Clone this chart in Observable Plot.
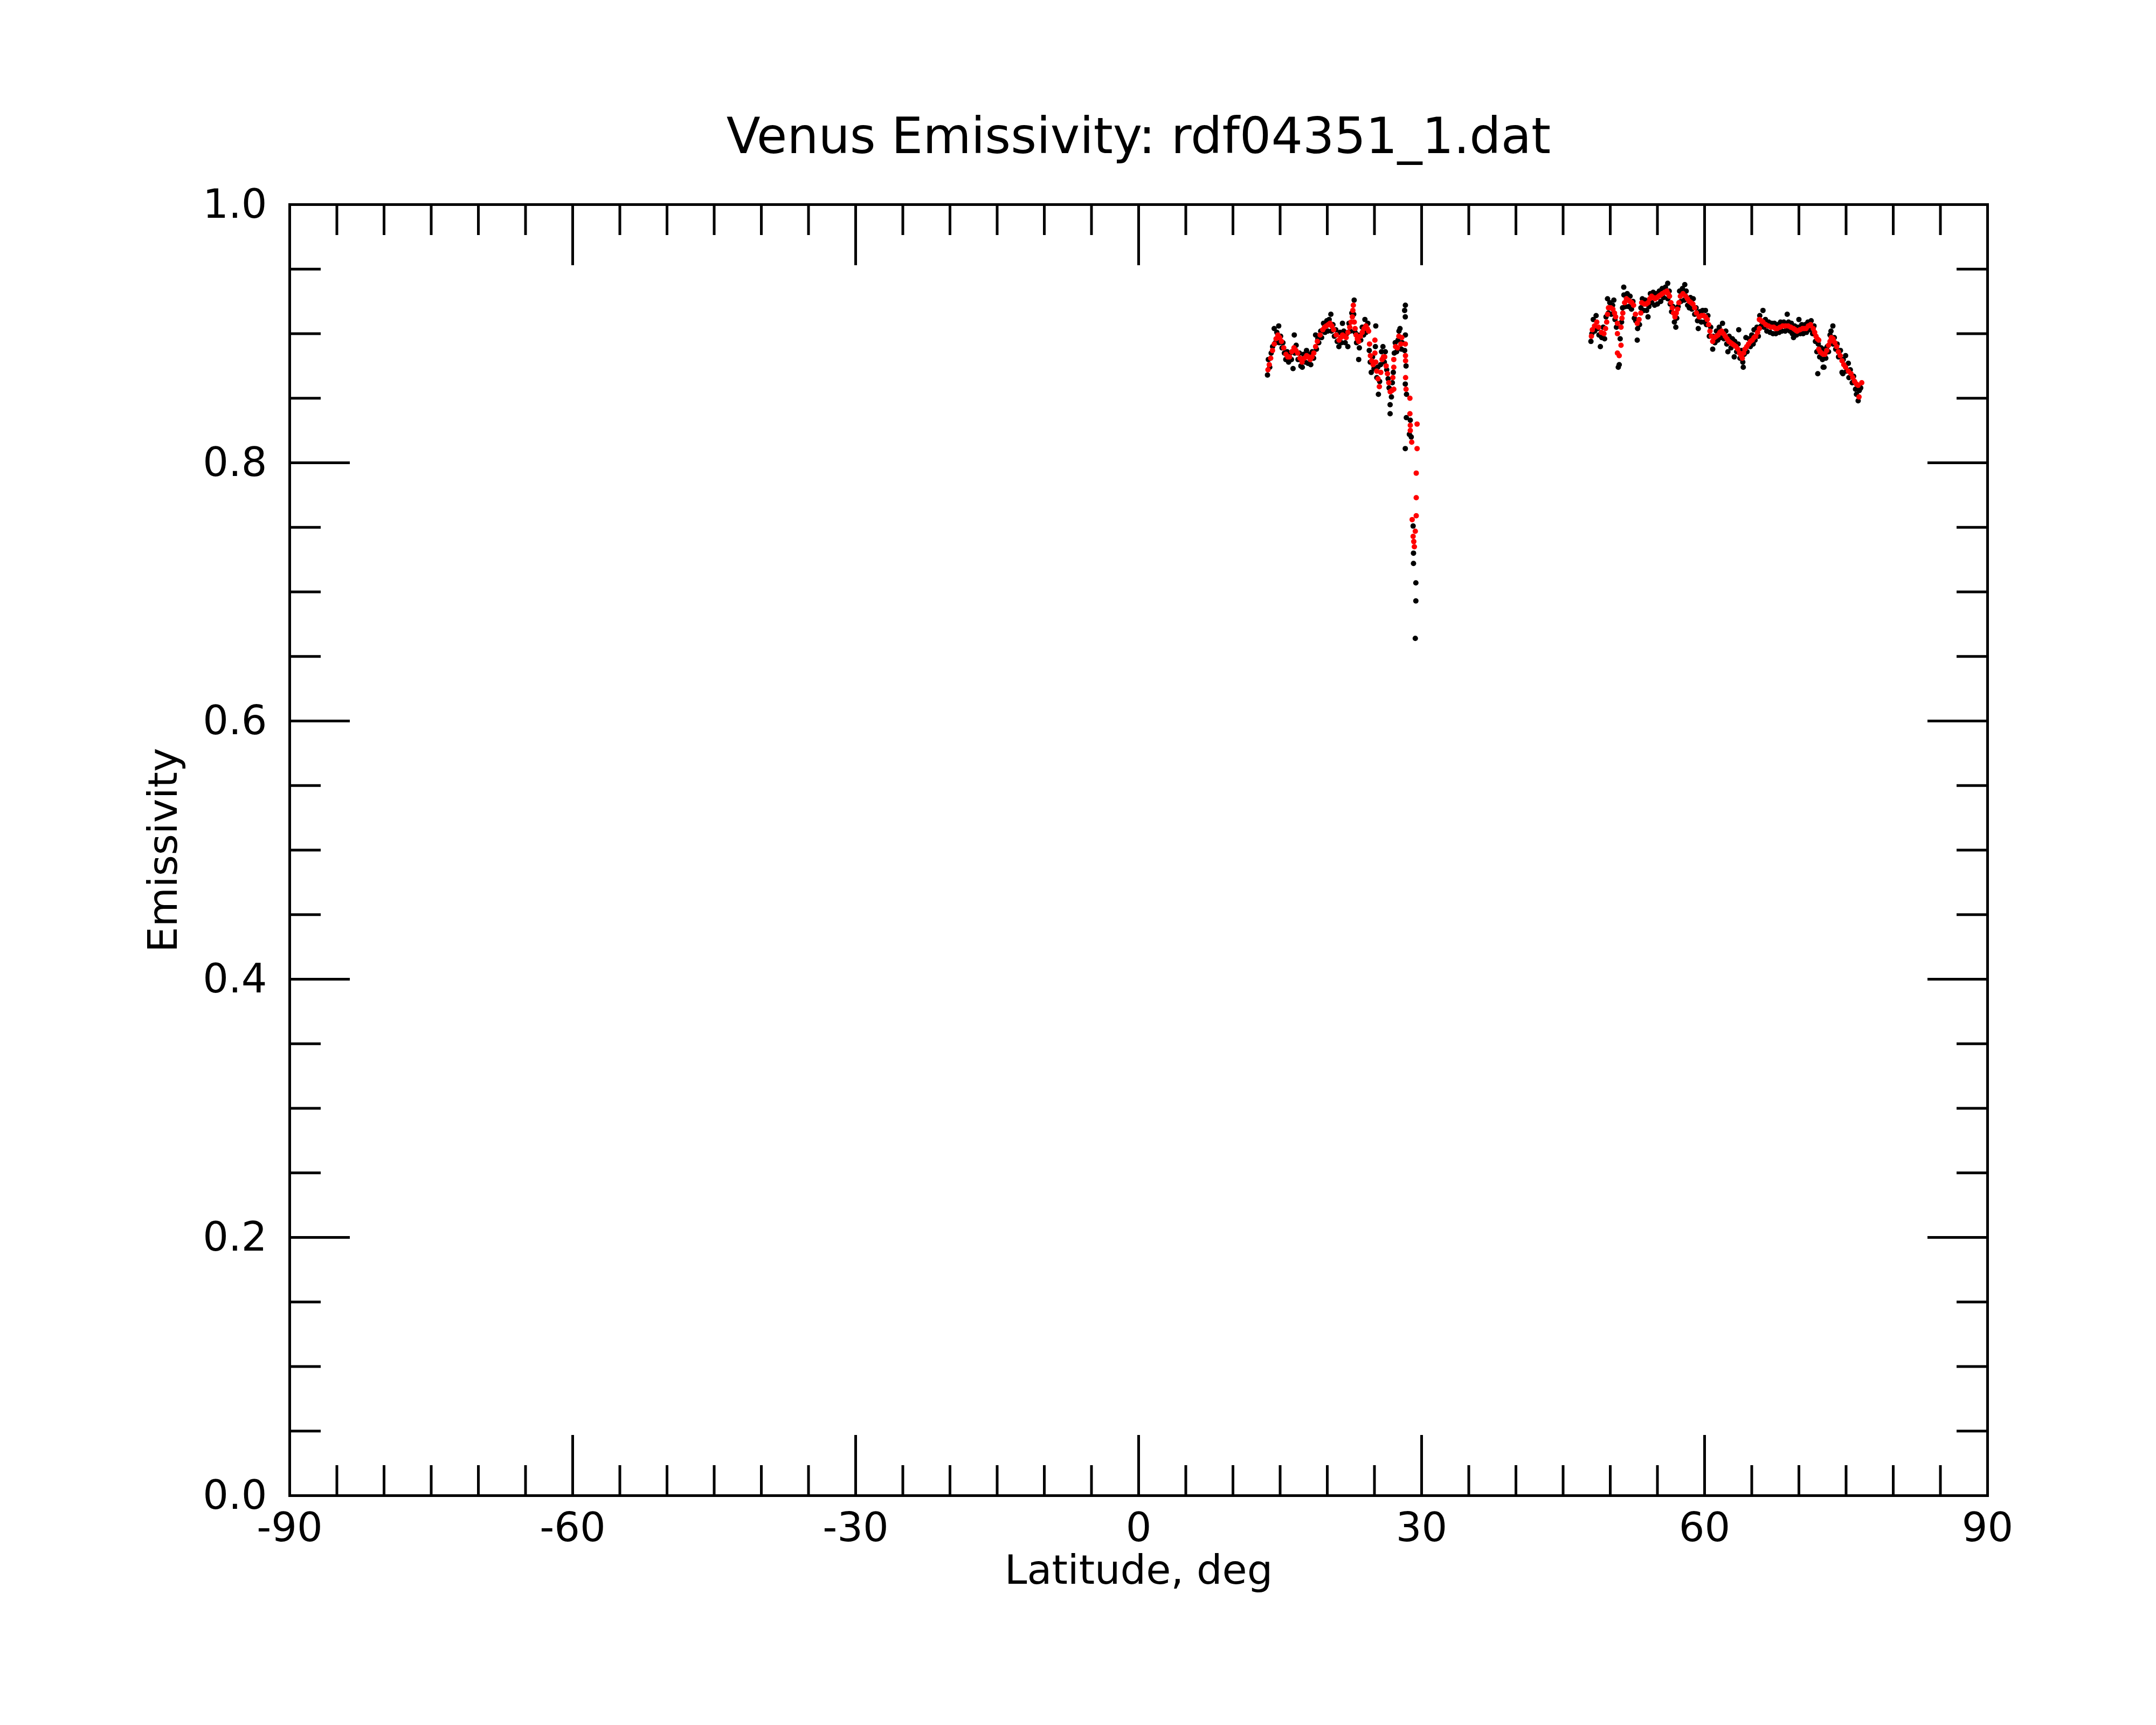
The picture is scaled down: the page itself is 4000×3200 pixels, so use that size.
<!DOCTYPE html>
<html>
<head>
<meta charset="utf-8">
<script src="https://cdn.jsdelivr.net/npm/d3@7"></script>
<script src="https://cdn.jsdelivr.net/npm/@observablehq/plot@0.6"></script>
<style>
  html, body { margin: 0; padding: 0; background: #ffffff; }
  #chart svg { display: block; }
</style>
</head>
<body>
<div id="chart"></div>
<script>
// ---- Text ----
const titleText = "Venus Emissivity: rdf04351_1.dat";
const xLabel = "Latitude, deg";
const yLabel = "Emissivity";

// ---- Ticks ----
const xMajor = [-90, -60, -30, 0, 30, 60, 90];
const xMinor = [-85, -80, -75, -70, -65, -55, -50, -45, -40, -35, -25, -20, -15, -10, -5,
                5, 10, 15, 20, 25, 35, 40, 45, 50, 55, 65, 70, 75, 80, 85];
const yMajor = [0.0, 0.2, 0.4, 0.6, 0.8, 1.0];
const yMinor = [0.05, 0.1, 0.15, 0.25, 0.3, 0.35, 0.45, 0.5, 0.55, 0.65, 0.7, 0.75, 0.85, 0.9, 0.95];

// ---- Raw emissivity (black), [latitude, emissivity] ----
const rawSeg1 = [
  [13.66,0.868],[13.75,0.880],[13.90,0.874],[14.05,0.885],[14.20,0.890],[14.37,0.904],[14.50,0.893],
  [14.65,0.901],[14.85,0.906],[14.90,0.893],[15.05,0.898],[15.20,0.889],[15.30,0.893],[15.45,0.885],
  [15.60,0.880],[15.75,0.886],[15.90,0.878],[16.05,0.885],[16.20,0.880],[16.37,0.873],[16.50,0.899],
  [16.55,0.885],[16.70,0.891],[16.90,0.880],[17.05,0.885],[17.20,0.875],[17.35,0.874],[17.50,0.884],
  [17.65,0.878],[17.80,0.887],[17.95,0.877],[18.10,0.884],[18.25,0.876],[18.40,0.886],[18.55,0.881],
  [18.76,0.899],[18.85,0.888],[19.00,0.896],[19.10,0.893],[19.30,0.902],[19.40,0.897],[19.60,0.908],
  [19.75,0.901],[19.95,0.910],[20.05,0.902],[20.20,0.911],[20.38,0.915],[20.45,0.902],[20.60,0.907],
  [20.75,0.898],[20.90,0.903],[21.05,0.894],[21.23,0.890],[21.35,0.901],[21.50,0.893],[21.61,0.908],
  [21.75,0.902],[21.90,0.893],[22.05,0.900],[22.18,0.890],[22.30,0.908],[22.45,0.902],[22.60,0.916],
  [22.85,0.926],[22.80,0.915],[22.95,0.901],[23.10,0.893],[23.25,0.899],[23.33,0.880],[23.40,0.889],
  [23.55,0.895],[23.70,0.905],[23.85,0.899],[23.99,0.911],[24.10,0.901],[24.30,0.908],[24.45,0.887],
  [24.55,0.878],[24.66,0.870],[24.80,0.882],[24.95,0.873],[25.14,0.906],[25.10,0.890],[25.25,0.866],
  [25.35,0.874],[25.42,0.853],[25.55,0.863],[25.65,0.876],[25.75,0.886],[25.90,0.890],[26.05,0.878],
  [26.15,0.886],[26.30,0.872],[26.45,0.865],[26.55,0.858],[26.66,0.845],[26.66,0.838],[26.80,0.851],
  [26.90,0.862],[27.00,0.870],[27.10,0.885],[27.20,0.893],[27.35,0.886],[27.50,0.895],[27.60,0.902],
  [27.71,0.904],[27.85,0.888],[27.95,0.893],[28.20,0.887],[28.27,0.913],[28.20,0.918],[28.28,0.922],
  [28.28,0.899],[28.35,0.875],[28.27,0.861],[28.40,0.853],[28.38,0.835],[28.27,0.811],[28.80,0.833],
  [28.70,0.822],[28.90,0.820],[29.10,0.751],[29.14,0.730],[29.14,0.722],[29.39,0.707],[29.39,0.693],
  [29.33,0.664]
];
const rawSeg2 = [
  [47.95,0.894],[48.05,0.900],[48.20,0.911],[48.35,0.902],[48.50,0.914],[48.65,0.904],[48.80,0.899],
  [48.95,0.890],[49.10,0.897],[49.25,0.905],[49.40,0.896],[49.55,0.913],[49.71,0.927],[49.80,0.916],
  [49.95,0.924],[50.10,0.915],[50.25,0.922],[50.38,0.926],[50.50,0.911],[50.65,0.905],[50.85,0.874],
  [50.95,0.876],[51.05,0.896],[51.20,0.909],[51.30,0.920],[51.43,0.936],[51.45,0.930],[51.60,0.921],
  [51.80,0.931],[51.95,0.921],[52.10,0.929],[52.25,0.919],[52.40,0.925],[52.55,0.912],[52.70,0.910],
  [52.86,0.895],[52.90,0.904],[53.10,0.907],[53.25,0.920],[53.40,0.927],[53.55,0.918],[53.70,0.926],
  [53.85,0.918],[54.00,0.913],[54.10,0.921],[54.25,0.931],[54.40,0.924],[54.55,0.932],[54.70,0.922],
  [54.85,0.931],[55.00,0.923],[55.20,0.933],[55.35,0.925],[55.50,0.935],[55.65,0.928],[55.85,0.936],
  [56.09,0.939],[56.10,0.927],[56.25,0.933],[56.35,0.923],[56.50,0.917],[56.65,0.921],[56.80,0.909],
  [56.95,0.905],[57.05,0.912],[57.20,0.921],[57.35,0.933],[57.50,0.925],[57.65,0.935],[57.90,0.938],
  [57.85,0.926],[58.05,0.933],[58.20,0.922],[58.38,0.920],[58.50,0.928],[58.65,0.919],[58.80,0.927],
  [58.95,0.915],[59.10,0.920],[59.25,0.910],[59.33,0.904],[59.50,0.917],[59.65,0.909],[59.80,0.918],
  [60.00,0.909],[60.09,0.918],[60.20,0.907],[60.35,0.914],[60.50,0.898],[60.65,0.905],[60.86,0.888],
  [60.90,0.898],[61.10,0.893],[61.25,0.902],[61.40,0.895],[61.55,0.905],[61.70,0.897],[61.90,0.908],
  [62.05,0.896],[62.25,0.902],[62.35,0.892],[62.47,0.886],[62.60,0.898],[62.80,0.889],[62.95,0.896],
  [63.14,0.882],[63.20,0.894],[63.40,0.886],[63.55,0.892],[63.62,0.903],[63.75,0.881],[63.90,0.887],
  [64.10,0.874],[64.05,0.878],[64.20,0.884],[64.38,0.897],[64.50,0.886],[64.70,0.896],[64.85,0.890],
  [65.00,0.899],[65.15,0.892],[65.24,0.903],[65.35,0.895],[65.55,0.905],[65.70,0.898],[65.85,0.914],
  [66.00,0.906],[66.19,0.918],[66.30,0.905],[66.45,0.911],[66.60,0.902],[66.80,0.909],[66.95,0.901],
  [67.10,0.908],[67.25,0.900],[67.40,0.908],[67.55,0.900],[67.75,0.907],[67.90,0.901],[68.05,0.909],
  [68.20,0.902],[68.40,0.909],[68.55,0.902],[68.76,0.915],[68.70,0.903],[68.90,0.909],[69.05,0.902],
  [69.20,0.908],[69.30,0.900],[69.43,0.897],[69.55,0.906],[69.75,0.899],[69.90,0.905],[70.00,0.911],
  [70.15,0.900],[70.30,0.907],[70.45,0.900],[70.65,0.907],[70.80,0.901],[70.95,0.909],[71.10,0.903],
  [71.30,0.910],[71.45,0.900],[71.60,0.906],[71.75,0.894],[71.90,0.886],[72.00,0.869],[72.05,0.892],
  [72.20,0.882],[72.35,0.889],[72.50,0.880],[72.57,0.874],[72.66,0.874],[72.70,0.888],[72.85,0.881],
  [73.00,0.890],[73.14,0.886],[73.30,0.899],[73.40,0.902],[73.60,0.906],[73.62,0.892],[73.75,0.897],
  [73.90,0.888],[74.05,0.892],[74.20,0.882],[74.40,0.887],[74.57,0.870],[74.66,0.869],[74.70,0.880],
  [74.95,0.883],[75.05,0.871],[75.24,0.877],[75.30,0.866],[75.45,0.872],[75.65,0.862],[75.80,0.867],
  [76.00,0.857],[76.10,0.853],[76.28,0.848],[76.40,0.856],[76.55,0.858]
];

// ---- Smoothed emissivity (red), [latitude, emissivity] ----
const smoothSeg1 = [
  [13.71,0.872],[13.85,0.876],[14.00,0.881],[14.19,0.887],[14.38,0.892],[14.57,0.896],[14.76,0.899],
  [14.95,0.897],[15.14,0.894],[15.38,0.889],[15.62,0.884],[15.81,0.882],[16.00,0.882],[16.24,0.886],
  [16.47,0.889],[16.67,0.887],[16.86,0.885],[17.10,0.881],[17.33,0.878],[17.57,0.881],[17.81,0.883],
  [18.00,0.882],[18.19,0.880],[18.38,0.882],[18.57,0.885],[18.76,0.890],[18.95,0.894],[19.24,0.899],
  [19.52,0.903],[19.71,0.905],[19.90,0.906],[20.10,0.907],[20.29,0.908],[20.48,0.906],[20.67,0.903],
  [20.95,0.899],[21.24,0.895],[21.43,0.897],[21.62,0.899],[21.81,0.898],[22.00,0.897],[22.19,0.901],
  [22.38,0.905],[22.52,0.909],[22.66,0.913],[22.71,0.918],[22.76,0.922],[22.86,0.909],[22.95,0.904],
  [23.05,0.899],[23.19,0.896],[23.33,0.894],[23.52,0.898],[23.71,0.901],[23.90,0.904],[24.09,0.906],
  [24.24,0.904],[24.38,0.902],[24.48,0.892],[24.57,0.883],[24.71,0.879],[24.86,0.876],[25.05,0.895],
  [25.05,0.885],[25.14,0.878],[25.24,0.871],[25.38,0.865],[25.52,0.859],[25.67,0.870],[25.81,0.880],
  [25.95,0.882],[26.09,0.882],[26.24,0.875],[26.38,0.869],[26.52,0.862],[26.67,0.855],[26.86,0.856],
  [26.95,0.866],[27.05,0.857],[27.05,0.874],[27.05,0.880],[27.24,0.890],[27.43,0.889],[27.59,0.898],
  [27.80,0.892],[27.90,0.897],[28.27,0.892],[28.29,0.883],[28.30,0.879],[28.30,0.866],[28.35,0.857],
  [28.76,0.850],[28.76,0.838],[28.80,0.829],[28.80,0.825],[28.95,0.816],[29.52,0.830],[29.52,0.811],
  [29.43,0.792],[29.43,0.773],[29.43,0.759],[29.00,0.756],[29.33,0.747],[29.10,0.743],[29.17,0.739],
  [29.23,0.735]
];
const smoothSeg2 = [
  [48.00,0.898],[48.10,0.903],[48.33,0.906],[48.57,0.909],[48.76,0.905],[49.05,0.901],[49.33,0.900],
  [49.50,0.904],[49.62,0.909],[49.71,0.915],[49.81,0.920],[50.05,0.920],[50.28,0.919],[50.45,0.916],
  [50.57,0.913],[50.76,0.908],[50.76,0.900],[50.76,0.885],[50.95,0.883],[51.14,0.891],[51.14,0.905],
  [51.24,0.912],[51.33,0.916],[51.52,0.924],[51.71,0.927],[51.90,0.926],[52.09,0.925],[52.28,0.924],
  [52.47,0.922],[52.67,0.915],[52.86,0.908],[53.05,0.911],[53.24,0.916],[53.33,0.924],[53.62,0.923],
  [53.81,0.923],[54.00,0.924],[54.19,0.927],[54.38,0.929],[54.57,0.928],[54.76,0.927],[54.95,0.928],
  [55.14,0.929],[55.33,0.930],[55.52,0.931],[55.76,0.932],[56.00,0.933],[56.14,0.931],[56.28,0.929],
  [56.43,0.924],[56.57,0.920],[56.71,0.916],[56.86,0.913],[57.00,0.916],[57.14,0.919],[57.28,0.924],
  [57.43,0.929],[57.71,0.931],[58.00,0.929],[58.19,0.927],[58.38,0.925],[58.57,0.924],[58.76,0.923],
  [58.95,0.920],[59.14,0.916],[59.43,0.913],[59.67,0.914],[59.90,0.914],[60.09,0.913],[60.28,0.911],
  [60.43,0.907],[60.57,0.902],[60.71,0.898],[60.86,0.894],[61.05,0.897],[61.24,0.898],[61.43,0.899],
  [61.62,0.901],[61.81,0.902],[62.00,0.900],[62.19,0.898],[62.38,0.896],[62.57,0.894],[62.76,0.893],
  [62.95,0.892],[63.14,0.891],[63.33,0.890],[63.52,0.888],[63.71,0.885],[63.86,0.883],[64.00,0.881],
  [64.14,0.885],[64.28,0.888],[64.47,0.890],[64.66,0.892],[64.86,0.894],[65.05,0.895],[65.24,0.897],
  [65.43,0.898],[65.62,0.901],[65.81,0.904],[65.81,0.911],[66.00,0.910],[66.19,0.909],[66.48,0.907],
  [66.76,0.906],[67.05,0.905],[67.33,0.905],[67.52,0.904],[67.71,0.904],[68.00,0.905],[68.28,0.906],
  [68.57,0.906],[68.86,0.906],[69.14,0.905],[69.43,0.904],[69.62,0.903],[69.81,0.902],[70.10,0.903],
  [70.38,0.904],[70.57,0.904],[70.76,0.904],[71.00,0.906],[71.24,0.907],[71.52,0.904],[71.67,0.901],
  [71.81,0.898],[71.95,0.896],[72.10,0.895],[72.10,0.888],[72.24,0.886],[72.38,0.885],[72.57,0.884],
  [72.76,0.884],[72.95,0.887],[73.14,0.891],[73.30,0.894],[73.43,0.897],[73.62,0.896],[73.81,0.893],
  [74.00,0.890],[74.18,0.886],[74.38,0.883],[74.57,0.879],[74.76,0.876],[74.95,0.874],[75.24,0.871],
  [75.52,0.869],[75.71,0.866],[75.90,0.863],[76.10,0.861],[76.28,0.860],[76.66,0.862],[76.37,0.851]
];

const rawPoints = rawSeg1.concat(rawSeg2);
const smoothPoints = smoothSeg1.concat(smoothSeg2);

const FONT = "DejaVu Sans, sans-serif";
const tickFont = 75;
const sw = 5;
const blank = () => "";

const chart = Plot.plot({
  width: 4000,
  height: 3200,
  marginLeft: 537,
  marginRight: 313,
  marginTop: 379,
  marginBottom: 426,
  style: { fontFamily: FONT, fontSize: tickFont + "px", background: "#ffffff", color: "#000000" },
  x: { domain: [-90, 90], label: null },
  y: { domain: [0, 1], label: null },
  marks: [
    // minor ticks, inward, on all four sides
    Plot.axisX({ anchor: "bottom", ticks: xMinor, tickSize: -56, tickFormat: blank, strokeWidth: sw, label: null }),
    Plot.axisX({ anchor: "top", ticks: xMinor, tickSize: -56, tickFormat: blank, strokeWidth: sw, label: null }),
    Plot.axisY({ anchor: "left", ticks: yMinor, tickSize: -58, tickFormat: blank, strokeWidth: sw, label: null }),
    Plot.axisY({ anchor: "right", ticks: yMinor, tickSize: -58, tickFormat: blank, strokeWidth: sw, label: null }),
    // major ticks, inward
    Plot.axisX({ anchor: "bottom", ticks: xMajor, tickSize: -112, tickFormat: blank, strokeWidth: sw, label: null }),
    Plot.axisX({ anchor: "top", ticks: xMajor, tickSize: -112, tickFormat: blank, strokeWidth: sw, label: null }),
    Plot.axisY({ anchor: "left", ticks: yMajor, tickSize: -112, tickFormat: blank, strokeWidth: sw, label: null }),
    Plot.axisY({ anchor: "right", ticks: yMajor, tickSize: -112, tickFormat: blank, strokeWidth: sw, label: null }),
    // tick labels
    Plot.axisX({ anchor: "bottom", ticks: xMajor, tickSize: 0, tickPadding: 31, tickFormat: d => String(d), fontSize: tickFont, label: null }),
    Plot.axisY({ anchor: "left", ticks: yMajor, tickSize: 0, tickPadding: 42, tickFormat: d => d.toFixed(1), fontSize: tickFont, label: null }),
    // data
    Plot.dot(rawPoints, { x: d => d[0], y: d => d[1], r: 5, fill: "#000000", stroke: "none" }),
    Plot.dot(smoothPoints, { x: d => d[0], y: d => d[1], r: 5, fill: "#ff0000", stroke: "none" }),
    // frame
    Plot.frame({ stroke: "#000000", strokeWidth: sw }),
    // title and axis labels
    Plot.text([titleText], { text: d => d, frameAnchor: "top", dy: -96, lineAnchor: "bottom", textAnchor: "middle", fontSize: 92, fill: "#000000" }),
    Plot.text([xLabel], { text: d => d, frameAnchor: "bottom", dy: 163, lineAnchor: "bottom", textAnchor: "middle", fontSize: tickFont, fill: "#000000" }),
    Plot.text([yLabel], { text: d => d, frameAnchor: "left", dx: -210, rotate: -90, lineAnchor: "bottom", textAnchor: "middle", fontSize: tickFont, fill: "#000000" })
  ]
});

document.getElementById("chart").appendChild(chart);
</script>
</body>
</html>
